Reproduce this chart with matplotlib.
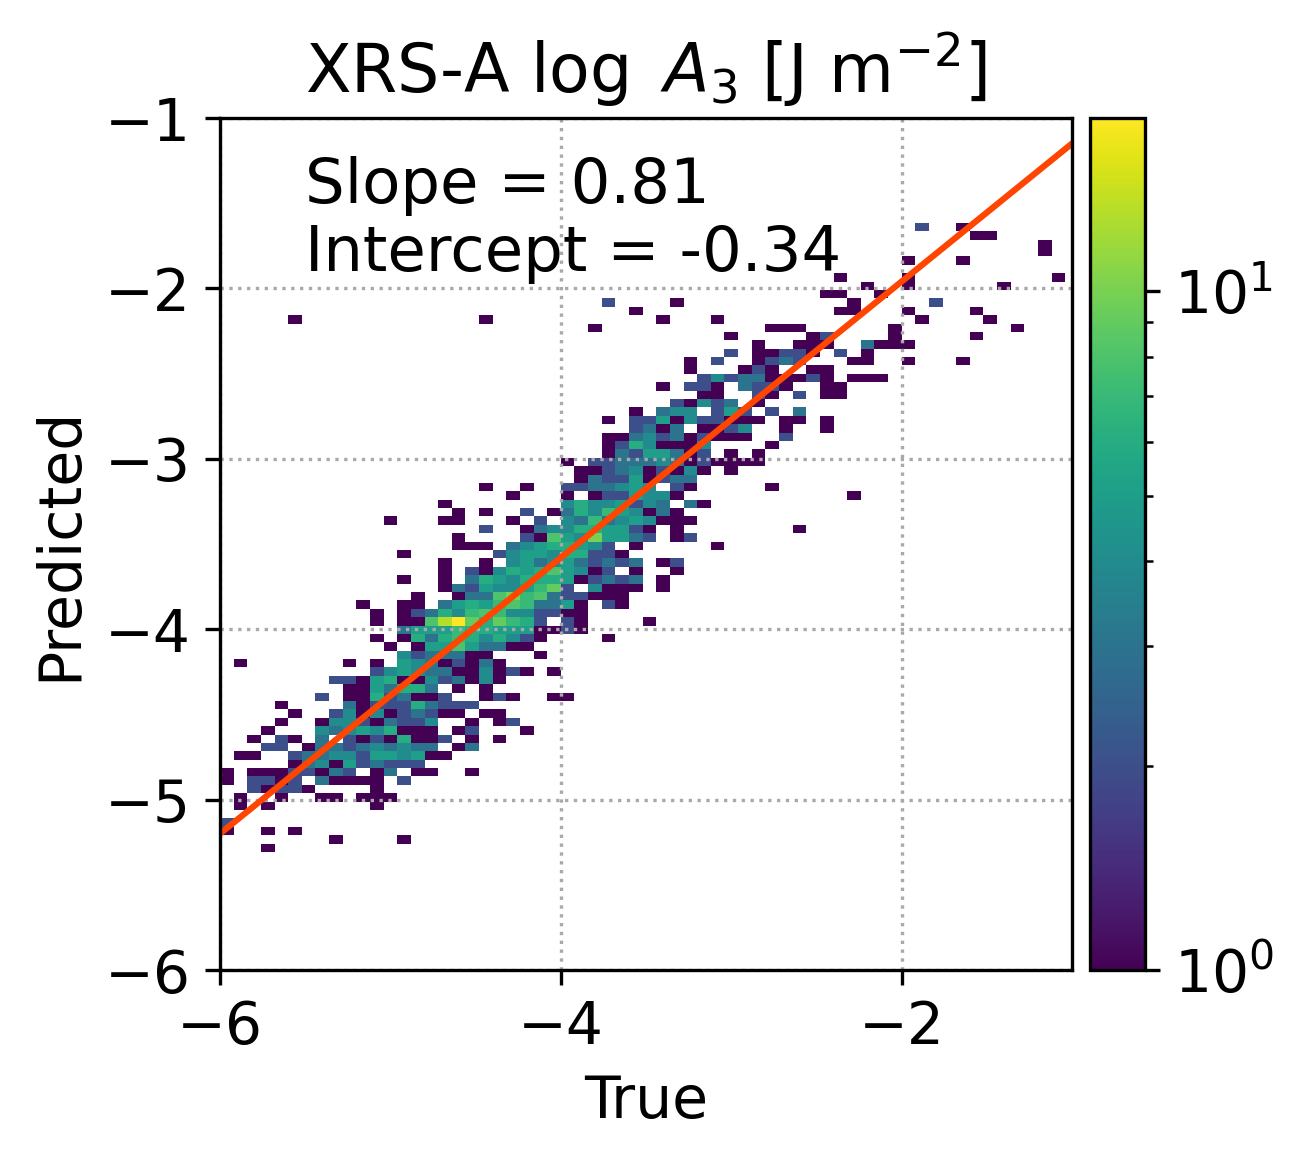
import numpy as np
import matplotlib
matplotlib.use('Agg')
import matplotlib.pyplot as plt
from matplotlib.colors import LogNorm

slope = 0.81
intercept = -0.34
x_bin_width = 0.08
y_bin_width = 0.04922
y_first_edge = -5.3075
n_cols = 63
n_rows = 75

# counts per bin, row -> {column: count}
cells = {
    0: {3: 1},
    1: {8: 1, 13: 1},
    2: {0: 1, 3: 1, 5: 1},
    3: {0: 2},
    5: {1: 1, 3: 1, 11: 1},
    6: {1: 1, 4: 1, 7: 1, 8: 1, 10: 1, 11: 1, 12: 1},
    7: {2: 2, 3: 1, 4: 2, 5: 2, 6: 1, 11: 1},
    8: {0: 1, 2: 2, 3: 2, 4: 1, 5: 2, 7: 3, 8: 1, 9: 1, 10: 1, 11: 1, 13: 2},
    9: {0: 1, 2: 1, 3: 1, 4: 1, 5: 2, 6: 2, 7: 1, 8: 3, 9: 2, 11: 1, 12: 3, 14: 1, 15: 1, 18: 1},
    10: {5: 1, 6: 3, 7: 4, 8: 1, 9: 5, 10: 2, 11: 3, 12: 2, 13: 2, 14: 2},
    11: {1: 1, 2: 1, 5: 2, 6: 3, 7: 3, 8: 4, 9: 4, 10: 2, 11: 5, 12: 5, 13: 4, 14: 5, 15: 1, 16: 1},
    12: {3: 2, 4: 2, 6: 1, 7: 3, 8: 3, 9: 2, 10: 3, 11: 4, 12: 3, 13: 4, 14: 3, 15: 3, 17: 1, 18: 3},
    13: {2: 1, 4: 2, 5: 1, 7: 3, 9: 2, 10: 1, 11: 2, 12: 1, 13: 6, 14: 1, 15: 1, 16: 2, 18: 1, 20: 1},
    14: {3: 1, 7: 4, 8: 3, 9: 4, 10: 5, 11: 4, 12: 6, 13: 1, 14: 1, 15: 1, 17: 1, 18: 2, 22: 1},
    15: {4: 1, 7: 1, 8: 4, 9: 4, 10: 2, 11: 1, 12: 3, 13: 2, 14: 2, 15: 4, 18: 1, 20: 1, 21: 2},
    16: {5: 1, 8: 2, 9: 4, 10: 1, 11: 4, 12: 1, 13: 2, 14: 3, 15: 2, 16: 1, 17: 1, 19: 1, 20: 1},
    17: {4: 1, 9: 3, 10: 1, 11: 2, 12: 2, 13: 2, 14: 6, 15: 3, 16: 2, 17: 2, 18: 2},
    18: {7: 2, 9: 1, 10: 1, 11: 6, 12: 2, 13: 3, 14: 1, 15: 1, 16: 2, 19: 1, 20: 2, 21: 1, 24: 1, 25: 1},
    19: {9: 1, 10: 1, 11: 5, 12: 3, 13: 6, 14: 6, 15: 3, 17: 1, 19: 1},
    20: {8: 2, 9: 2, 10: 1, 11: 5, 12: 6, 13: 1, 14: 1, 15: 4, 16: 2, 17: 3, 18: 1, 19: 4, 20: 1},
    21: {11: 2, 12: 4, 13: 5, 14: 4, 15: 3, 16: 3, 17: 1, 18: 1, 19: 4, 20: 1, 21: 2, 22: 1, 24: 1},
    22: {1: 1, 9: 1, 11: 1, 13: 5, 14: 4, 15: 3, 16: 1, 17: 2, 18: 1, 19: 3, 20: 1},
    23: {13: 4, 14: 2, 15: 3, 16: 3, 17: 3, 18: 1, 19: 1, 23: 1},
    24: {12: 1, 14: 1, 15: 5, 16: 5, 17: 8, 18: 5, 19: 3, 20: 3, 21: 1, 22: 1},
    25: {11: 1, 13: 1, 14: 6, 15: 3, 16: 6, 17: 7, 18: 6, 19: 4, 20: 6, 21: 4, 22: 2, 23: 1, 28: 1},
    26: {13: 3, 14: 5, 15: 5, 16: 5, 17: 7, 18: 6, 19: 6, 20: 5, 21: 5, 22: 5, 23: 1, 24: 1, 25: 2, 26: 1},
    27: {11: 1, 13: 1, 14: 1, 15: 8, 16: 13, 17: 18, 18: 9, 19: 6, 20: 9, 21: 7, 22: 6, 23: 2, 25: 2, 26: 1, 31: 1},
    28: {11: 1, 13: 1, 14: 2, 15: 3, 16: 6, 17: 4, 18: 7, 19: 8, 20: 7, 21: 4, 22: 4, 23: 2, 24: 2, 25: 1, 26: 1},
    29: {10: 1, 13: 1, 14: 1, 16: 3, 17: 5, 18: 6, 19: 5, 20: 7, 21: 8, 22: 7, 23: 3, 24: 3, 25: 5, 26: 1, 28: 2, 29: 1},
    30: {14: 1, 17: 1, 18: 3, 19: 3, 20: 8, 21: 10, 22: 7, 23: 8, 24: 3, 25: 2, 26: 2, 27: 1, 28: 1, 29: 1},
    31: {16: 1, 17: 3, 18: 2, 19: 5, 20: 4, 21: 4, 22: 5, 23: 7, 24: 9, 25: 2, 27: 4, 28: 1, 29: 1, 30: 1, 32: 1},
    32: {13: 1, 16: 1, 18: 3, 19: 6, 20: 5, 21: 4, 22: 6, 23: 6, 24: 6, 25: 5, 26: 1, 27: 2, 28: 3, 29: 2, 30: 3, 32: 1},
    33: {16: 1, 18: 2, 19: 1, 20: 4, 21: 6, 22: 5, 23: 6, 24: 8, 25: 5, 26: 4, 27: 1, 28: 2, 30: 1, 33: 1},
    34: {16: 1, 19: 1, 21: 4, 22: 5, 23: 3, 24: 4, 25: 5, 26: 3, 27: 2, 28: 3, 29: 2, 30: 3, 32: 1, 33: 2},
    35: {13: 1, 20: 2, 21: 4, 22: 5, 23: 5, 24: 4, 25: 6, 26: 6, 27: 2, 28: 2, 29: 1},
    36: {17: 1, 18: 1, 19: 1, 21: 3, 22: 4, 23: 5, 24: 6, 25: 6, 26: 5, 27: 4, 28: 2, 30: 1, 36: 1},
    37: {17: 1, 22: 2, 23: 1, 24: 8, 25: 5, 26: 4, 27: 10, 28: 5, 29: 5, 30: 3, 31: 2, 33: 1, 34: 2},
    38: {19: 2, 22: 1, 23: 3, 24: 4, 25: 4, 26: 6, 27: 6, 28: 5, 29: 5, 30: 2, 31: 1, 33: 1, 42: 1},
    39: {12: 1, 16: 1, 17: 1, 21: 1, 23: 2, 25: 4, 26: 3, 27: 7, 28: 3, 29: 4, 30: 5, 31: 4, 32: 1, 33: 1, 34: 1},
    40: {17: 1, 19: 1, 22: 2, 24: 1, 25: 3, 26: 6, 27: 4, 28: 7, 29: 5, 30: 4, 31: 1, 32: 3, 33: 1},
    41: {16: 1, 25: 4, 26: 6, 27: 4, 28: 4, 29: 5, 30: 2, 31: 4, 32: 3, 34: 3, 35: 1},
    42: {21: 1, 25: 1, 27: 1, 28: 2, 29: 2, 30: 5, 31: 4, 32: 4, 33: 1, 46: 1},
    43: {19: 1, 22: 1, 25: 2, 26: 2, 27: 3, 28: 3, 29: 4, 30: 5, 31: 4, 33: 2, 34: 1, 40: 1},
    44: {26: 1, 27: 3, 28: 2, 29: 2, 30: 5, 31: 1, 32: 2, 33: 3, 34: 3},
    45: {26: 1, 27: 1, 28: 2, 29: 3, 30: 4, 31: 1, 32: 2, 33: 1, 34: 4, 35: 1, 37: 1},
    46: {25: 1, 27: 2, 28: 2, 29: 3, 30: 3, 31: 3, 32: 4, 33: 3, 34: 1, 35: 2, 36: 1, 37: 1, 38: 1, 39: 1},
    47: {28: 1, 29: 3, 30: 2, 31: 5, 32: 5, 33: 3, 34: 1, 35: 2, 37: 1, 39: 1},
    48: {28: 1, 29: 2, 30: 6, 31: 4, 32: 1, 33: 1, 34: 1, 35: 4, 40: 1},
    49: {28: 1, 29: 1, 30: 3, 31: 4, 32: 2, 33: 3, 34: 1, 35: 2, 36: 1, 37: 1, 38: 1, 41: 2},
    50: {30: 2, 31: 3, 32: 1, 33: 3, 35: 1, 36: 1, 37: 2, 38: 4, 41: 1, 44: 1},
    51: {28: 1, 30: 2, 31: 2, 32: 5, 33: 1, 34: 4, 35: 2, 36: 2, 37: 1, 38: 1, 39: 1, 41: 1, 42: 1, 44: 1},
    52: {30: 1, 32: 3, 33: 4, 34: 4, 36: 2, 37: 5, 38: 2, 40: 2, 42: 3},
    53: {33: 2, 34: 1, 35: 4, 36: 2, 37: 3, 39: 1},
    54: {35: 1, 36: 1, 39: 2, 40: 1, 42: 2, 44: 1, 45: 1},
    55: {32: 1, 34: 2, 35: 2, 36: 1, 38: 3, 39: 2, 40: 2, 41: 1, 44: 1, 45: 1},
    56: {35: 2, 36: 4, 37: 2, 38: 3, 39: 3, 40: 1, 41: 1, 42: 1, 43: 2, 44: 1, 46: 1, 47: 1, 48: 1},
    57: {34: 1, 38: 1, 39: 2, 40: 1, 43: 1, 44: 1},
    58: {34: 1, 36: 2, 39: 1, 40: 2, 41: 3, 42: 2, 46: 1, 47: 1, 50: 1, 54: 1},
    59: {37: 2, 39: 1, 40: 1, 41: 2, 42: 2, 43: 1, 45: 2, 47: 1},
    60: {39: 1, 42: 1, 43: 1, 44: 1, 47: 3, 48: 1, 49: 1, 50: 1},
    61: {37: 1, 43: 1, 44: 2, 49: 1, 55: 1},
    62: {27: 1, 40: 1, 41: 1, 42: 1, 49: 1, 58: 1},
    63: {5: 1, 19: 1, 32: 1, 36: 1, 51: 1, 56: 1},
    64: {30: 1, 45: 1, 46: 1, 50: 1, 55: 1},
    65: {28: 2, 33: 1, 46: 1, 52: 2},
    66: {44: 1, 45: 1, 48: 1},
    67: {47: 1, 50: 1, 57: 1},
    68: {45: 1, 50: 1, 61: 1},
    70: {50: 1, 54: 1},
    71: {60: 1},
    72: {60: 1},
    73: {55: 1, 56: 1},
    74: {51: 2, 54: 1},
}

H = np.zeros((n_rows, n_cols))
for row, vals in cells.items():
    for col, c in vals.items():
        H[row, col] = c
H = np.ma.masked_where(H == 0, H)

xedges = -6 + x_bin_width * np.arange(n_cols + 1)
yedges = y_first_edge + y_bin_width * np.arange(n_rows + 1)

W, HH = 1303, 1161
fig = plt.figure(figsize=((W + 0.1) / 300, (HH + 0.1) / 300), dpi=300)
ax = fig.add_axes([220 / W, 1 - 970 / HH, 852 / W, 852 / HH])
cax = fig.add_axes([1090 / W, 1 - 970 / HH, 55 / W, 852 / HH])

mesh = ax.pcolormesh(xedges, yedges, H, cmap='viridis', norm=LogNorm(vmin=1, vmax=18), rasterized=True)
ax.set_xlim(-6, -1)
ax.set_ylim(-6, -1)
ax.set_xticks([-6, -4, -2])
ax.set_yticks([-6, -5, -4, -3, -2, -1])
ax.tick_params(labelsize=14)
ax.grid(True, linestyle=':', color='darkgray', linewidth=0.8)

xs = np.array([-6, -1])
ax.plot(xs, slope * xs + intercept, color='orangered', linewidth=1.5)

ax.text(-5.5, -1.5, 'Slope = %.2f' % slope, fontsize=15)
ax.text(-5.5, -1.9, 'Intercept = %.2f' % intercept, fontsize=15)
ax.set_xlabel('True', fontsize=14)
ax.set_ylabel('Predicted', fontsize=14)
ax.set_title(r'XRS-A log $\,A_3$ [J m$^{-2}$]', fontsize=16)

cb = fig.colorbar(mesh, cax=cax)
cb.ax.tick_params(labelsize=14)

fig.savefig('out.png', dpi=300)
